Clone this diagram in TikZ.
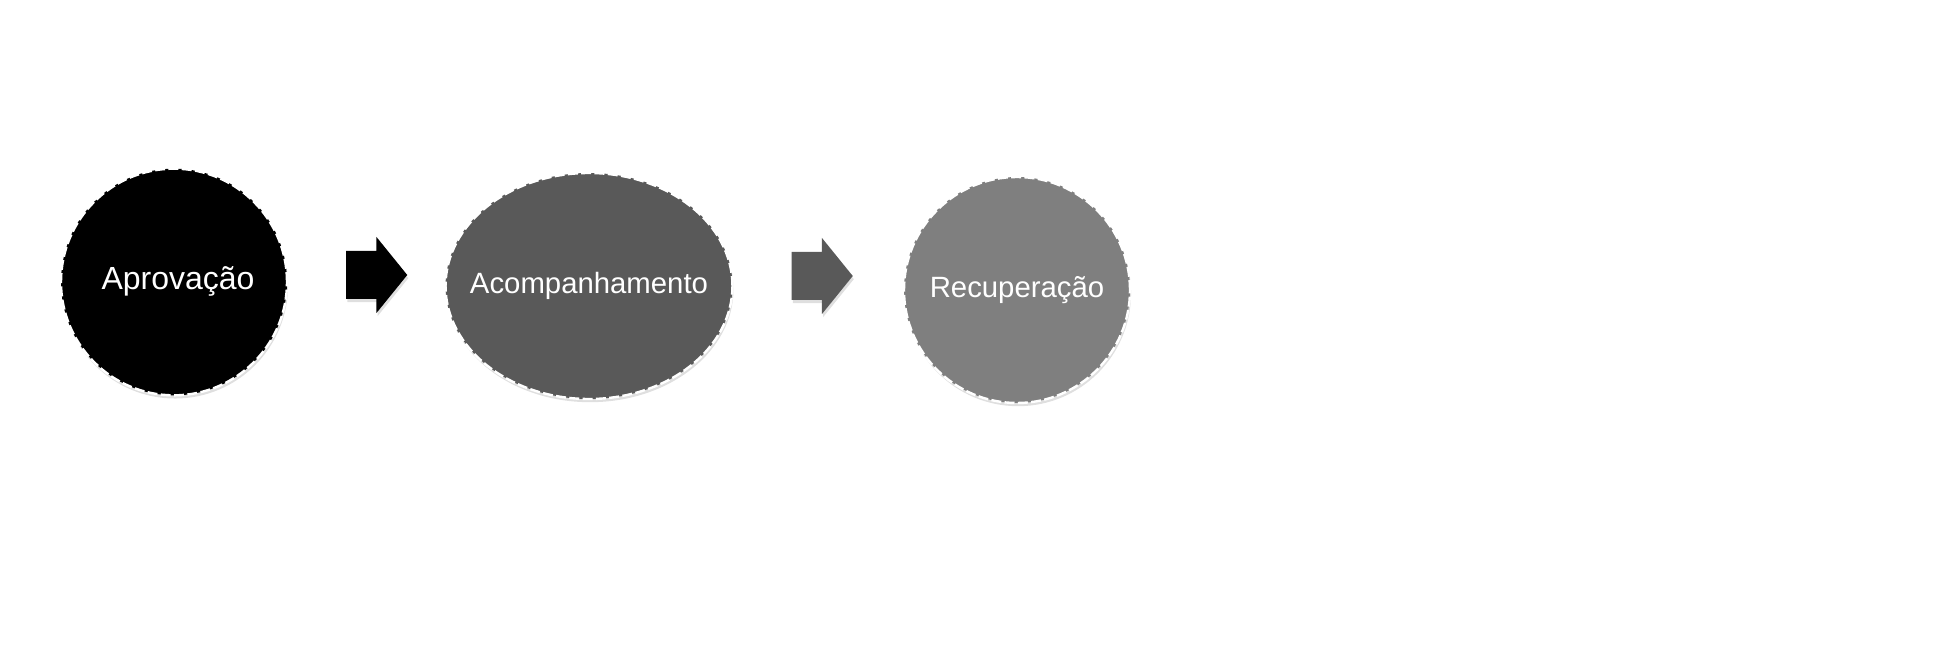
\documentclass[tikz,border=0pt]{standalone}
\usepackage{fontspec}
\setmainfont{Liberation Sans}
\usetikzlibrary{shapes.geometric}
\usetikzlibrary{shapes.arrows}
\usetikzlibrary{shadows}

\definecolor{midgray}{RGB}{89,89,89}
\definecolor{lightgray}{RGB}{127,127,127}

\begin{document}
\begin{tikzpicture}
[x=0.375pt,y=-0.375pt,
 stage/.style={shape=ellipse,draw=white,fill=black,line width=0.9pt,
   dash pattern=on 3.75pt off 1.25pt,inner sep=0pt,
   drop shadow={shadow xshift=0.4pt,shadow yshift=-1.2pt,opacity=0.25}},
 caption/.style={text=white,inner sep=0pt,font=\fontsize{11}{13}\selectfont},
 flow/.style={shape=single arrow,fill=black,inner xsep=0pt,inner ysep=8.8pt,
   minimum height=22.9pt,minimum width=28.1pt,
   single arrow head extend=5.25pt,single arrow tip angle=102,
   drop shadow={shadow xshift=0.4pt,shadow yshift=-1.2pt,opacity=0.25}}]

\useasboundingbox (0,0) rectangle (1956,648);

\draw (174,282) node (aprov) [stage,minimum width=84.75pt,minimum height=85pt] {};
\draw (aprov) ++(4,-1) node (aprovtxt) [caption,font=\fontsize{12}{14}\selectfont] {Aprovação};

\draw (367,275) node (seta1) [flow] {};

\draw (589,286) node (acomp) [stage,fill=midgray,minimum width=107.6pt,minimum height=84.75pt] {};
\draw (acomp) node (acomptxt) [caption] {Acompanhamento};

\draw (812.5,276) node (seta2) [flow,fill=midgray] {};

\draw (1017,290) node (recup) [stage,fill=lightgray,minimum width=84.75pt,minimum height=84.75pt] {};
\draw (recup) node (recuptxt) [caption] {Recuperação};
\end{tikzpicture}
\end{document}
